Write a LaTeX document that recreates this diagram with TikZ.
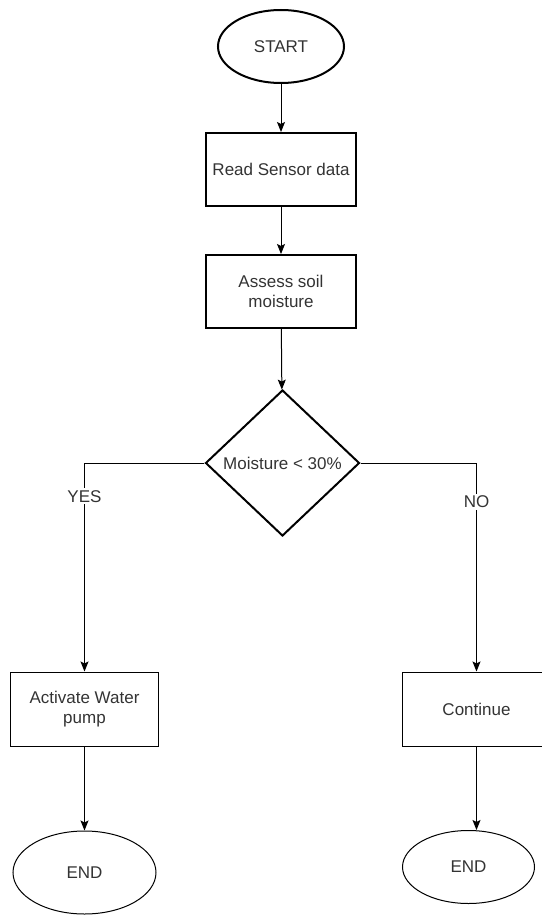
\documentclass[tikz,border=0pt]{standalone}
\usepackage{fontspec}
\setmainfont{Liberation Sans}
\usepackage{tikz}
\usetikzlibrary{shapes.geometric, arrows, arrows.meta}
\usetikzlibrary{positioning}
\tikzstyle{startstop} = [ellipse, minimum width=126pt, minimum height=73pt, text centered, draw=black, line width=2pt]
\tikzstyle{stopnode} = [ellipse, text centered, draw=black, line width=1pt]
\tikzstyle{process} = [rectangle, minimum width=149pt, minimum height=73pt, align=center, draw=black, line width=2pt]
\tikzstyle{action} = [rectangle, minimum width=148pt, minimum height=74pt, align=center, draw=black, line width=1pt]
\tikzstyle{decision} = [diamond, minimum width=154pt, minimum height=146pt, inner sep=0pt, text centered, draw=black, line width=2pt]
\tikzstyle{arrow} = [line width=1pt,-{Stealth[length=10pt,width=8pt,inset=2pt]}]
\tikzstyle{answer} = [fill=white, inner sep=2pt]

\begin{document}
\begin{tikzpicture}[font=\fontsize{17}{20}\selectfont, text=black!80]
    \useasboundingbox (-281pt,46.5pt) rectangle (260pt,-868.5pt);
    \node (start) [startstop] {START};
    \node (read) [process, below of=start, node distance=123pt] {Read Sensor data};
    \node (assess) [process, below of=read, node distance=122pt] {Assess soil\\moisture};
    \node (decide) [decision, below of=assess, node distance=171.5pt, xshift=1.5pt] {Moisture < 30\%};
    \node (pump) [action, below of=decide, node distance=246pt, xshift=-198pt] {Activate Water\\pump};
    \node (cont) [action, below of=decide, node distance=246pt, xshift=194pt] {Continue};
    \node (end1) [stopnode, minimum width=143pt, minimum height=83pt, below of=pump, node distance=163.5pt] {END};
    \node (end2) [stopnode, minimum width=132pt, minimum height=73pt, below of=cont, node distance=158pt, xshift=-8pt] {END};
    \draw [arrow] (start) -- (read);
    \draw [arrow] (read) -- (assess);
    \draw [arrow] (assess) -- (decide);
    \draw [arrow] (decide.west) -| node [answer, pos=0.58] {YES} (pump.north);
    \draw [arrow] (decide.east) -| node [answer, pos=0.593] {NO} (cont.north);
    \draw [arrow] (pump) -- (end1);
    \draw [arrow] (cont.south) -- (cont.south |- end2.north);
\end{tikzpicture}
\end{document}
